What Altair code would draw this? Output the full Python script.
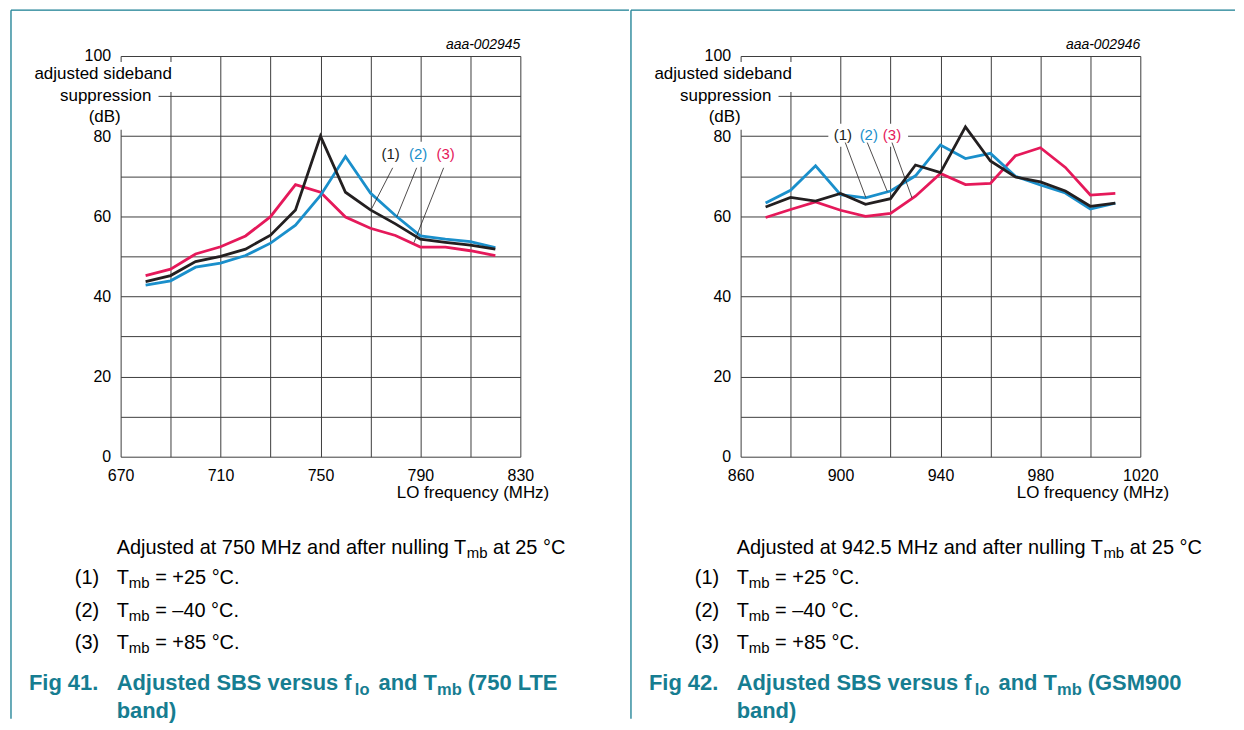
import altair as alt
import pandas as pd

FONT = "Liberation Sans"
BLACK = "#231f20"
BLUE = "#1a8fcb"
RED = "#e5195a"
TEAL = "#167d91"
GRID = "#3d3d3d"

# ---------------- data ----------------
f41 = [680, 690, 700, 710, 720, 730, 740, 750, 760, 770, 780, 790, 800, 810, 820]
s41_1 = [43.7, 45.2, 48.7, 50.0, 51.8, 55.3, 61.6, 80.0, 66.0, 61.6, 58.1, 54.3, 53.5, 52.8, 51.8]
s41_2 = [42.8, 43.9, 47.3, 48.3, 50.2, 53.3, 57.8, 65.2, 74.9, 65.8, 60.2, 55.1, 54.3, 53.7, 52.2]
s41_3 = [45.2, 46.8, 50.6, 52.4, 55.1, 59.9, 67.9, 66.0, 59.8, 57.0, 55.2, 52.3, 52.3, 51.4, 50.2]

f42 = [870, 880, 890, 900, 910, 920, 930, 940, 950, 960, 970, 980, 990, 1000, 1010]
s42_1 = [62.3, 64.7, 63.8, 65.7, 63.0, 64.4, 72.8, 70.9, 82.3, 73.8, 69.8, 68.6, 66.3, 62.5, 63.3]
s42_2 = [63.3, 66.5, 72.6, 65.4, 64.6, 66.3, 70.1, 77.8, 74.4, 75.7, 70.0, 67.8, 65.8, 61.8, 63.3]
s42_3 = [59.7, 61.7, 63.6, 61.5, 60.0, 60.7, 65.0, 70.7, 67.9, 68.2, 75.1, 77.1, 72.2, 65.3, 65.7]

labels = ["(1)", "(2)", "(3)"]
label_colors = [BLACK, BLUE, RED]

lab41_x = [778.1, 789.1, 800.1]
lab41_y = [75.6, 75.6, 75.6]
lead41_x1 = [778.9, 788.5, 799.3]
lead41_y1 = [72.1, 72.1, 72.1]
lead41_x2 = [770.5, 780.5, 787.4]
lead41_y2 = [61.9, 59.8, 53.4]

lab42_x = [900.9, 911.3, 920.6]
lab42_y = [80.3, 80.3, 80.3]
lead42_x1 = [901.9, 910.7, 920.6]
lead42_y1 = [78.4, 78.4, 78.4]
lead42_x2 = [910.1, 918.7, 928.6]
lead42_y2 = [64.7, 66.2, 64.6]

y_title = ["adjusted sideband", "suppression", "(dB)"]
x_title = "LO frequency (MHz)"

# ---------------- text width helper (Arial / Liberation Sans metrics) ----------------
REG = {' ': 278, '(': 333, ')': 333, '+': 584, '.': 278, '=': 584, '°': 400, '–': 556,
       'A': 667, 'B': 667, 'C': 722, 'E': 667, 'F': 611, 'H': 722, 'L': 556, 'M': 833,
       'S': 667, 'T': 611, 'a': 556, 'b': 556, 'c': 500, 'd': 556, 'e': 556, 'f': 278,
       'g': 556, 'h': 556, 'i': 222, 'j': 222, 'l': 222, 'm': 833, 'n': 556, 'o': 556,
       'p': 556, 'q': 556, 'r': 333, 's': 500, 't': 278, 'u': 556, 'v': 500, 'y': 500, 'z': 500}
BOLD = {' ': 278, '(': 333, ')': 333, '.': 278, 'A': 722, 'B': 722, 'E': 667, 'F': 611,
        'G': 778, 'L': 611, 'M': 833, 'S': 667, 'T': 611, 'a': 556, 'b': 611, 'd': 611,
        'e': 556, 'f': 333, 'g': 611, 'i': 278, 'l': 278, 'm': 889, 'n': 611, 'o': 611,
        'r': 389, 's': 556, 'u': 611, 'v': 556}


def tw(s, size, bold=False):
    t = BOLD if bold else REG
    return sum(t.get(c, 556) for c in s) * size / 1000.0


def run(segs, x0, y0, color, bold, base, sub, sub_dy):
    """segs: list of (text, is_sub[, dx]). Leading spaces are turned into an x offset."""
    out = []
    x = x0
    for seg in segs:
        txt, is_sub = seg[0], seg[1]
        x += seg[2] if len(seg) > 2 else 0
        size = sub if is_sub else base
        stripped = txt.lstrip(" ")
        x += tw(txt[:len(txt) - len(stripped)], size, bold)
        out.append({"t": stripped, "x": x, "y": y0 + (sub_dy if is_sub else 0),
                    "fs": size, "c": color, "b": bold})
        x += tw(stripped, size, bold)
    return out


W, H = 401, 402


def panel(freq, s1, s2, s3, dom, lab_x, lab_y, lx1, ly1, lx2, ly2, lab_rect,
          tag, cap_mhz, fig_no, fig_band, fig_band2, top_right):
    xs = alt.Scale(domain=dom, nice=False, zero=False)
    ys = alt.Scale(domain=[0, 100], nice=False, zero=False)
    xaxis = alt.Axis(values=list(range(dom[0], dom[1] + 1, 10)), format="d",
                     labelExpr=f"(datum.value - {dom[0]}) % 40 == 0 ? datum.label : ''",
                     title=None, grid=True, ticks=False, domain=False,
                     labelFlush=False, labelOverlap=False, labelPadding=11)
    yaxis = alt.Axis(values=list(range(0, 101, 10)), format="d",
                     labelExpr="datum.value % 20 == 0 ? datum.label : ''",
                     title=None, grid=True, ticks=False, domain=False,
                     labelFlush=False, labelOverlap=False, labelPadding=10)

    def px(field):
        return alt.X(field, type="quantitative", scale=None, axis=None)

    def py(field):
        return alt.Y(field, type="quantitative", scale=None, axis=None)

    # white backgrounds (cover the grid under the texts)
    rects = pd.DataFrame({
        "x": [-2, -2, -2, lab_rect[0]],
        "x2": [58, 38, 3, lab_rect[1]],
        "y": [6, 36, 50, lab_rect[2]],
        "y2": [36, 50.5, 74, lab_rect[3]],
    })
    base = alt.Chart(rects).mark_rect(fill="white", stroke=None).encode(
        x=px("x"), x2="x2", y=py("y"), y2="y2")

    layers = []
    # series (red, blue, black so black lies on top)
    for vals, col, first in ((s3, RED, True), (s2, BLUE, False), (s1, BLACK, False)):
        d = pd.DataFrame({"f": freq, "v": vals})
        ch = alt.Chart(d).mark_line(strokeWidth=2.8, color=col, strokeJoin="miter")
        if first:
            ch = ch.encode(x=alt.X("f:Q", scale=xs, axis=xaxis),
                           y=alt.Y("v:Q", scale=ys, axis=yaxis))
        else:
            ch = ch.encode(x=alt.X("f:Q", scale=xs), y=alt.Y("v:Q", scale=ys))
        layers.append(ch)

    # leader lines
    lead = pd.DataFrame({"x1": lx1, "y1": ly1, "x2": lx2, "y2": ly2})
    layers.append(alt.Chart(lead).mark_rule(color=BLACK, strokeWidth=0.8).encode(
        x=alt.X("x1:Q", scale=xs), y=alt.Y("y1:Q", scale=ys), x2="x2:Q", y2="y2:Q"))
    labd = pd.DataFrame({"x": lab_x, "y": lab_y, "t": labels, "c": label_colors})
    layers.append(alt.Chart(labd).mark_text(font=FONT, fontSize=15, align="center",
                                            baseline="middle").encode(
        x=alt.X("x:Q", scale=xs), y=alt.Y("y:Q", scale=ys), text="t:N",
        color=alt.Color("c:N", scale=None)))

    # axis titles
    yt = pd.DataFrame({"x": [-17.5, -15, -16], "y": [18, 40, 61], "t": y_title})
    layers.append(alt.Chart(yt).mark_text(font=FONT, fontSize=17, align="center",
                                          baseline="middle", color="black").encode(
        x=px("x"), y=py("y"), text="t:N"))
    xt = pd.DataFrame({"x": [430], "y": [443], "t": [x_title]})
    layers.append(alt.Chart(xt).mark_text(font=FONT, fontSize=17, align="right",
                                          baseline="alphabetic", color="black").encode(
        x=px("x"), y=py("y"), text="t:N"))
    tg = pd.DataFrame({"x": [W], "y": [-7], "t": [tag]})
    layers.append(alt.Chart(tg).mark_text(font=FONT, fontSize=14, fontStyle="italic",
                                          align="right", baseline="alphabetic",
                                          color="black").encode(
        x=px("x"), y=py("y"), text="t:N"))

    # frame rules
    fr = pd.DataFrame({"x": [-110, -110], "x2": [top_right, -110],
                       "y": [-46, -46], "y2": [-46, 665]})
    layers.append(alt.Chart(fr).mark_rule(color=TEAL, strokeWidth=1.3).encode(
        x=px("x"), x2="x2", y=py("y"), y2="y2"))

    # captions
    rows = []
    rows += run([(f"Adjusted at {cap_mhz} MHz and after nulling T", False), ("mb", True),
                 (" at 25 °C", False)], -4, 500, "black", False, 20, 15, 4)
    for num, txt, yb in (("(1)", " = +25 °C.", 530), ("(2)", " = –40 °C.", 563),
                         ("(3)", " = +85 °C.", 595)):
        rows += run([(num, False)], -46, yb, "black", False, 20, 15, 4)
        rows += run([("T", False), ("mb", True), (txt, False)], -4, yb, "black", False, 20, 15, 4)
    rows += run([(fig_no, False)], -92, 636, TEAL, True, 22, 16.5, 5)
    rows += run([("Adjusted SBS versus f", False), ("lo", True, -8), (" and T", False, 3),
                 ("mb", True), (fig_band, False)], -4, 636, TEAL, True, 22, 16.5, 5)
    rows += run([(fig_band2, False)], -4, 664, TEAL, True, 22, 16.5, 5)
    cap = pd.DataFrame(rows)
    for bold in (False, True):
        d = cap[cap["b"] == bold]
        layers.append(alt.Chart(d).mark_text(font=FONT, align="left", baseline="alphabetic",
                                             fontWeight="bold" if bold else "normal").encode(
            x=px("x"), y=py("y"), text="t:N", size=alt.Size("fs:Q", scale=None),
            color=alt.Color("c:N", scale=None)))

    return alt.layer(base, *layers).properties(width=W, height=H)


left = panel(f41, s41_1, s41_2, s41_3, [670, 830], lab41_x, lab41_y,
             lead41_x1, lead41_y1, lead41_x2, lead41_y2, [258, 339, 86, 111],
             "aaa-002945", "750", "Fig 41.", " (750 LTE", "band)", 510)
right = panel(f42, s42_1, s42_2, s42_3, [860, 1020], lab42_x, lab42_y,
              lead42_x1, lead42_y1, lead42_x2, lead42_y2, [88, 168, 68, 91],
              "aaa-002946", "942.5", "Fig 42.", " (GSM900", "band)", 496)

chart = alt.hconcat(left, right, spacing=0).properties(
    padding={"left": 2, "top": 0, "right": 0, "bottom": 0}
).configure_view(stroke=None).configure_axis(
    gridColor=GRID, gridWidth=1, gridOpacity=1,
    labelFont=FONT, labelFontSize=16, labelColor="black"
)

chart.save("out.html", embed_options={"renderer": "svg", "actions": False})
